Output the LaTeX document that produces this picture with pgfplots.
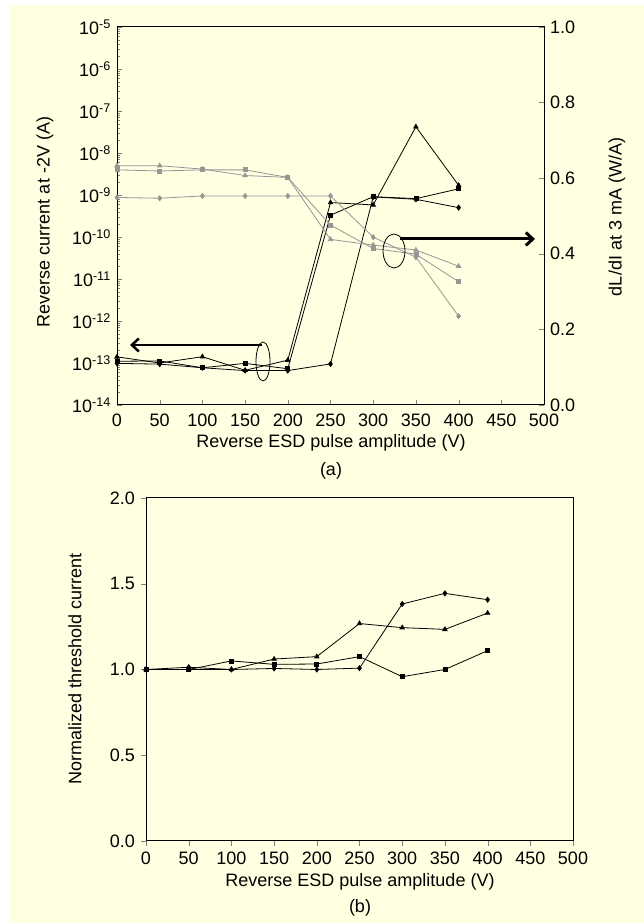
\documentclass[border=0pt]{standalone}
\usepackage{fontspec}
\setmainfont{Liberation Sans}
\usepackage{pgfplots}
\pgfplotsset{compat=1.18}
\usetikzlibrary{arrows.meta}
\definecolor{bgy}{RGB}{255,255,226}
\definecolor{gr}{RGB}{150,150,150}
\begin{document}
\fontsize{18bp}{21bp}\selectfont
\begin{tikzpicture}
\begin{scope}[x=1bp,y=1bp]
\path[use as bounding box] (0,0) rectangle (644,923);
\fill[white] (0,0) rectangle (644,923);
\fill[bgy] (10,0) rectangle (644,918);
\end{scope}
\pgfplotsset{
  every axis/.append style={scale only axis, font=\fontsize{18bp}{21bp}\selectfont,
    /pgf/number format/assume math mode=true, clip=false},
  blk/.style={black, line width=0.8bp, mark options={solid, fill=black, scale=1}},
  gry/.style={gr, line width=0.8bp, mark options={solid, fill=gr, draw=gr}},
}
% ---------- top panel: left log axis ----------
\begin{axis}[at={(117bp,518bp)}, anchor=south west, width=427bp, height=378bp,
  xmin=0, xmax=500, ymode=log, ymin=1e-14, ymax=1e-5,
  xtick={0,50,...,500}, xtick pos=bottom, ytick pos=left, tick align=inside,
  xticklabel style={yshift=-3bp},
  ytick={1e-14,1e-13,1e-12,1e-11,1e-10,1e-9,1e-8,1e-7,1e-6,1e-5},
  yticklabels={10\textsuperscript{-14},10\textsuperscript{-13},10\textsuperscript{-12},10\textsuperscript{-11},10\textsuperscript{-10},10\textsuperscript{-9},10\textsuperscript{-8},10\textsuperscript{-7},10\textsuperscript{-6},10\textsuperscript{-5}},
  axis line style={line width=1bp},
  major tick length=5bp, minor tick length=3bp,
  mark size=2.5bp]
\addplot[blk, mark=triangle*] coordinates {(0,1.4e-13) (50,1.0e-13) (100,1.41e-13) (150,6.7e-14) (200,1.17e-13) (250,6.6e-10) (300,5.8e-10) (350,4.2e-8) (400,1.7e-9)};
\addplot[blk, mark=square*, mark size=2bp] coordinates {(0,1.1e-13) (50,1.12e-13) (100,7.7e-14) (150,9.8e-14) (200,7.3e-14) (250,3.3e-10) (300,9.1e-10) (350,8.2e-10) (400,1.4e-9)};
\addplot[blk, mark=diamond*] coordinates {(0,9.8e-14) (50,9.4e-14) (100,7.7e-14) (150,6.6e-14) (200,6.6e-14) (250,9.5e-14) (300,9.0e-10) (350,7.9e-10) (400,5.0e-10)};
\end{axis}
% ---------- top panel: right linear axis ----------
\begin{axis}[at={(117bp,518bp)}, anchor=south west, width=427bp, height=378bp,
  xmin=0, xmax=500, ymin=0, ymax=1,
  axis x line=none, axis y line*=right, tick align=inside,
  ytick={0,0.2,...,1.0}, major tick length=5bp,
  yticklabel style={/pgf/number format/.cd, fixed, fixed zerofill, precision=1},
  axis line style={line width=1bp, -},
  mark size=2.5bp]
\addplot[gry, mark=triangle*] coordinates {(0,0.633) (50,0.633) (100,0.624) (150,0.607) (200,0.602) (250,0.438) (300,0.423) (350,0.410) (400,0.367)};
\addplot[gry, mark=square*, mark size=2bp] coordinates {(0,0.622) (50,0.619) (100,0.622) (150,0.622) (200,0.602) (250,0.476) (300,0.414) (350,0.399) (400,0.326)};
\addplot[gry, mark=diamond*] coordinates {(0,0.549) (50,0.547) (100,0.553) (150,0.553) (200,0.553) (250,0.553) (300,0.444) (350,0.391) (400,0.235)};
\end{axis}
% ---------- bottom panel ----------
\begin{axis}[at={(146bp,82bp)}, anchor=south west, width=427bp, height=343bp,
  xmin=0, xmax=500, ymin=0, ymax=2,
  xtick={0,50,...,500}, ytick={0,0.5,...,2.0}, xtick pos=bottom, ytick pos=left,
  tick align=outside, major tick length=5bp,
  yticklabel style={/pgf/number format/.cd, fixed, fixed zerofill, precision=1},
  axis line style={line width=1bp},
  mark size=2.5bp]
\addplot[blk, mark=diamond*] coordinates {(0,1.0) (50,1.013) (100,1.0) (150,1.006) (200,1.0) (250,1.008) (300,1.382) (350,1.444) (400,1.407)};
\addplot[blk, mark=triangle*] coordinates {(0,1.0) (50,1.0) (100,1.0) (150,1.061) (200,1.075) (250,1.268) (300,1.244) (350,1.234) (400,1.329)};
\addplot[blk, mark=square*, mark size=2bp] coordinates {(0,1.0) (50,1.0) (100,1.05) (150,1.030) (200,1.032) (250,1.075) (300,0.958) (350,1.0) (400,1.11)};
\end{axis}
\begin{scope}[x=1bp,y=1bp]
% ---------- labels ----------
\node[rotate=90] at (45,701) {Reverse current at -2V (A)};
\node[rotate=90] at (617,706) {dL/dI at 3 mA (W/A)};
\node at (331,480) {Reverse ESD pulse amplitude (V)};
\node at (331,452) {(a)};
\node[rotate=90] at (75,254) {Normalized threshold current};
\node at (360,41) {Reverse ESD pulse amplitude (V)};
\node at (360,15) {(b)};
% ---------- annotations ----------
\draw[line width=2.5bp, -{Straight Barb[length=7bp,width=13bp]}] (262,578) -- (130,578);
\draw[line width=0.8bp] (263,561.5) ellipse [x radius=7, y radius=19.5];
\draw[line width=3bp, -{Straight Barb[length=7bp,width=13bp]}] (400,684) -- (535,684);
\draw[line width=0.8bp] (394,672) ellipse [x radius=11, y radius=17];
\end{scope}
\end{tikzpicture}
\end{document}
